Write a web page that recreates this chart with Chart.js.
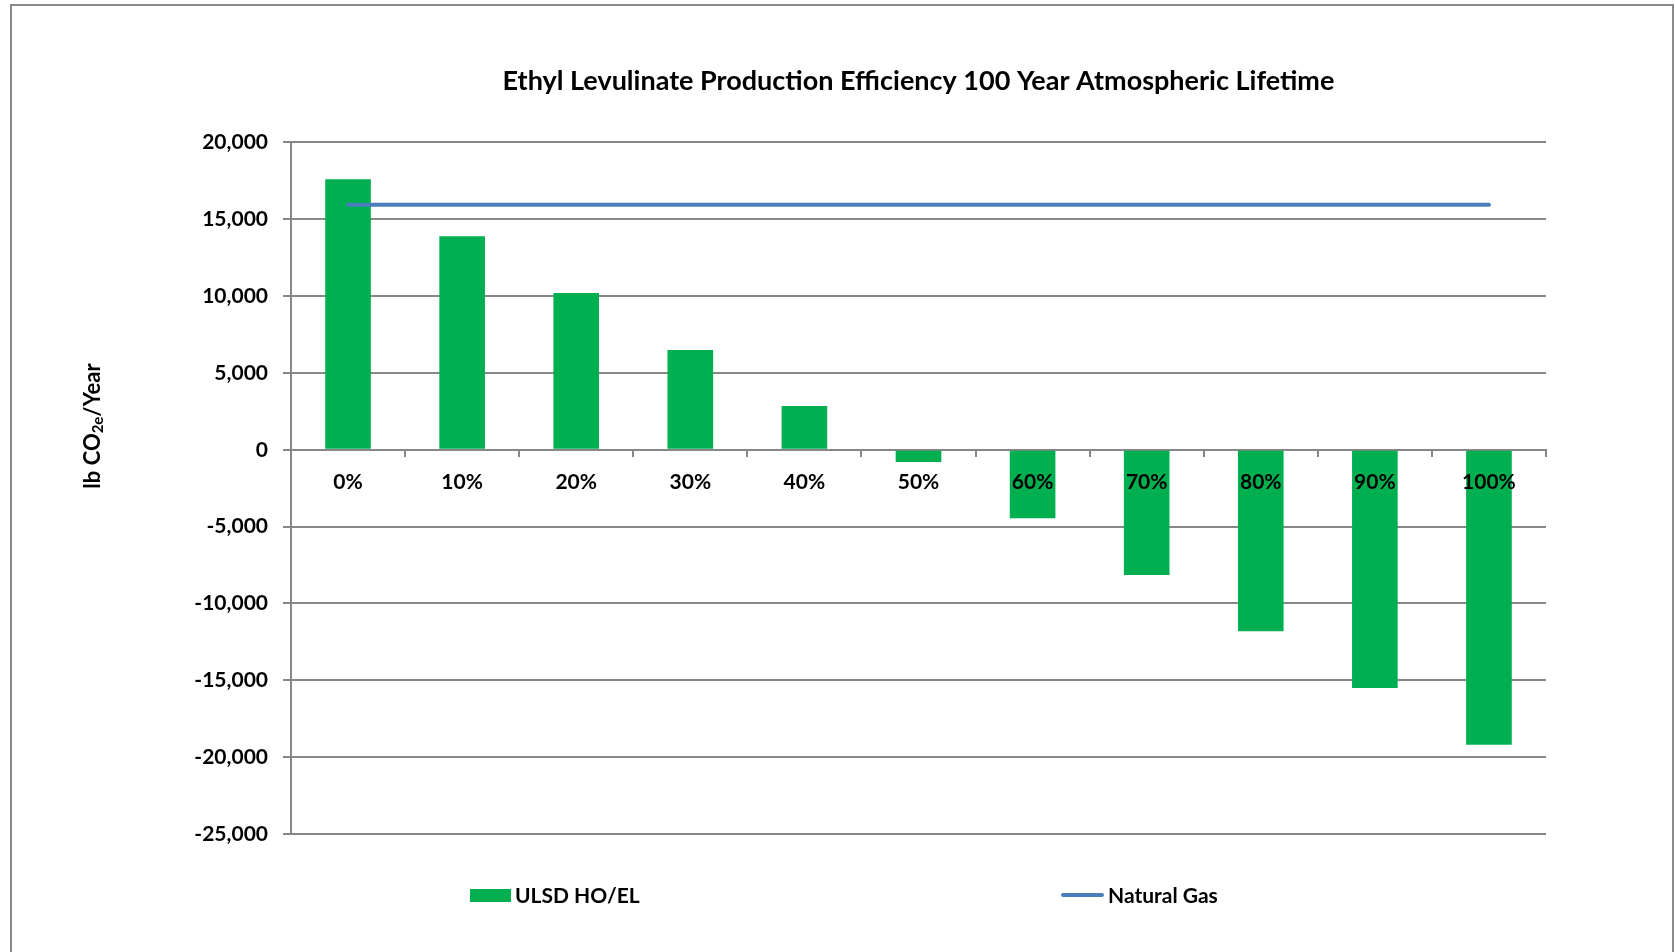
<!DOCTYPE html>
<html>
<head>
<meta charset="utf-8">
<script src="https://cdn.jsdelivr.net/npm/chart.js@4.4.1/dist/chart.umd.min.js"></script>
<style>
  html, body { margin: 0; padding: 0; background: #fff; }
  #wrap { position: relative; width: 1675px; height: 952px; overflow: hidden; font-family: Lato, sans-serif; }
  #frame { position: absolute; left: 10px; top: 4px; width: 1660px; height: 1000px; border: 2px solid #8a8a8a; }
  #chart { position: absolute; left: 0; top: 0; }
  .leg { position: absolute; top: 882px; font: bold 21px Lato, sans-serif; color: #000; line-height: 26px; }
  .swatch { position: absolute; }
</style>
</head>
<body>
<div id="wrap">
  <div id="frame"></div>
  <canvas id="chart" width="1675" height="952"></canvas>
  <div class="swatch" style="left:470px; top:889px; width:41px; height:13px; background:#00b050;"></div>
  <div class="leg" style="left:515px;">ULSD HO/EL</div>
  <div class="swatch" style="left:1061px; top:893px; width:43px; height:4px; border-radius:2px; background:#4a7ebb;"></div>
  <div class="leg" style="left:1108px;">Natural Gas</div>
</div>
<script>
// data
const categories = ['0%', '10%', '20%', '30%', '40%', '50%', '60%', '70%', '80%', '90%', '100%'];
const ulsdValues = [17600, 13900, 10200, 6500, 2850, -800, -4450, -8150, -11800, -15500, -19200];
const naturalGasValues = [15950, 15950, 15950, 15950, 15950, 15950, 15950, 15950, 15950, 15950, 15950];
const yTicks = [20000, 15000, 10000, 5000, 0, -5000, -10000, -15000, -20000, -25000];

const gridGray = '#878787';
const labelFont = { family: 'Lato', size: 21, weight: 'bold' };

// y axis title with a real subscript
const yTitlePlugin = {
    id: 'yTitle',
    afterDraw(chart) {
        const ctx = chart.ctx;
        const parts = [['lb CO', 22, 0], ['2e', 15, 5], ['/Year', 22, 0]];
        ctx.save();
        ctx.fillStyle = '#000';
        ctx.textBaseline = 'middle';
        ctx.textAlign = 'left';
        let total = 0;
        parts.forEach(p => { ctx.font = 'bold ' + p[1] + 'px Lato'; total += ctx.measureText(p[0]).width; });
        ctx.translate(93, 426);
        ctx.rotate(-Math.PI / 2);
        let x = -total / 2;
        parts.forEach(p => {
            ctx.font = 'bold ' + p[1] + 'px Lato';
            ctx.fillText(p[0], x, p[2]);
            x += ctx.measureText(p[0]).width;
        });
        ctx.restore();
    }
};

new Chart(document.getElementById('chart').getContext('2d'), {
    type: 'bar',
    data: {
        labels: categories,
        datasets: [{
            type: 'line',
            label: 'Natural Gas',
            data: naturalGasValues,
            borderColor: '#4a7ebb',
            borderWidth: 4,
            borderCapStyle: 'round',
            pointRadius: 0,
            order: 0
        }, {
            type: 'bar',
            label: 'ULSD HO/EL',
            data: ulsdValues,
            backgroundColor: '#00b050',
            barPercentage: 0.4,
            categoryPercentage: 1,
            order: 1
        }]
    },
    options: {
        responsive: false,
        animation: false,
        layout: { padding: { left: 0, right: 129, top: 0, bottom: 118 } },
        plugins: {
            legend: { display: false },
            tooltip: { enabled: false },
            title: {
                display: true,
                fullSize: false,
                text: 'Ethyl Levulinate Production Efficiency 100 Year Atmospheric Lifetime',
                color: '#000',
                font: { family: 'Lato', size: 27, weight: 'bold' },
                padding: { top: 65, bottom: 45 }
            }
        },
        scales: {
            x: {
                position: { y: 0 },
                grid: { drawOnChartArea: false, color: gridGray, lineWidth: 2, tickLength: 6 },
                border: { color: gridGray, width: 2 },
                ticks: { z: 1, color: '#000', font: labelFont, padding: 14, maxRotation: 0 }
            },
            y: {
                min: -25000,
                max: 20000,
                afterBuildTicks: s => { s.ticks = yTicks.map(v => ({ value: v })); },
                afterFit: s => { s.width = 291; },
                grid: { color: gridGray, lineWidth: 2, tickLength: 8 },
                border: { color: gridGray, width: 2 },
                ticks: { color: '#000', font: labelFont, padding: 15, callback: v => v.toLocaleString('en-US') }
            }
        }
    },
    plugins: [yTitlePlugin]
});
</script>
</body>
</html>
